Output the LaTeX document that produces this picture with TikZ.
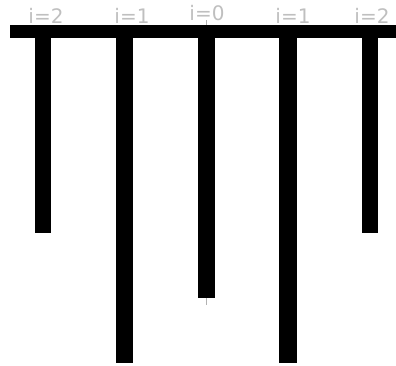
\documentclass[tikz,border=0pt]{standalone}
\usepackage{fontspec}
\setmainfont{DejaVu Sans}
\begin{document}
\begin{tikzpicture}[x=1pt,y=-1pt,
  bar/.style={fill=black,draw=none,inner sep=0pt,outer sep=0pt},
  lbl/.style={text=gray!50,font=\fontsize{20}{20}\selectfont,inner sep=0pt,anchor=base}]
\useasboundingbox (0,0) rectangle (396,365);
% top bar
\fill[bar] (10,25) rectangle (396,38);
% stubs
\fill[bar] (35,38) rectangle (51,233);
\fill[bar] (116,38) rectangle (133,363);
\fill[bar] (198,38) rectangle (215,298);
\fill[bar] (279,38) rectangle (297,363);
\fill[bar] (362,38) rectangle (378,233);
% centre ticks
\draw[gray!60,line width=0.5pt] (206.5,20) -- (206.5,25);
\draw[gray!60,line width=0.5pt] (206.5,298) -- (206.5,305);
% labels
\node[lbl] (l1) at (46,23) {i=2};
\node[lbl] (l2) at (132,23) {i=1};
\node[lbl] (l3) at (207,20) {i=0};
\node[lbl] (l4) at (293,23) {i=1};
\node[lbl] (l5) at (372,23) {i=2};
\end{tikzpicture}
\end{document}
